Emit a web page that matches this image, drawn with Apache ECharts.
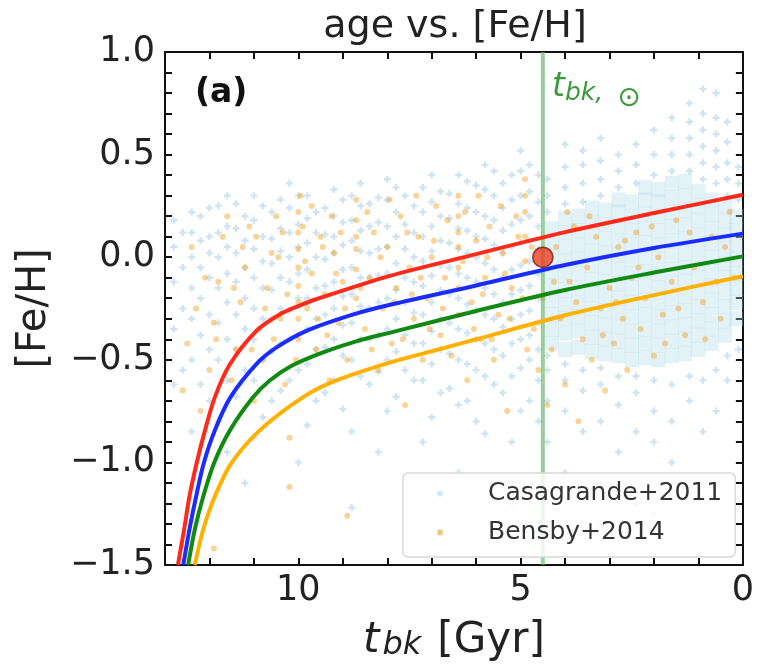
<!DOCTYPE html>
<html><head><meta charset="utf-8">
<script src="https://cdn.jsdelivr.net/npm/echarts@6/dist/echarts.min.js"></script>
<style>html,body{margin:0;padding:0;background:#fff}#c{width:757px;height:667px}</style>
</head><body><div id="c"></div>
<script>
// ---------------- data ----------------
const xTickValues = [0, 5, 10];
const yTickValues = [-1.5, -1.0, -0.5, 0.0, 0.5, 1.0];
const sunAge = [4.5];
const sunFeH = [0.0];

const redT   = [12.71,12.57,12.45,12.29,12.10,11.88,11.54,10.95,10.43,10.0,9.6,7.96,6.0,4.0,2.0,0.0];
const redFe  = [-1.5,-1.327,-1.166,-1.005,-0.844,-0.683,-0.522,-0.36,-0.28,-0.238,-0.205,-0.092,0.015,0.122,0.215,0.304];
const blueT  = [12.59,12.45,12.30,12.13,11.88,11.53,10.95,10.50,9.83,8.78,7.96,6.0,4.0,2.0,0.0];
const blueFe = [-1.5,-1.327,-1.166,-1.005,-0.844,-0.683,-0.522,-0.441,-0.36,-0.28,-0.233,-0.138,-0.038,0.045,0.115];
const greenT = [12.48,12.33,12.14,11.90,11.54,11.02,10.65,10.16,9.46,8.7,7.89,6.0,4.0,2.0,0.0];
const greenFe= [-1.5,-1.327,-1.166,-1.005,-0.844,-0.683,-0.602,-0.53,-0.465,-0.41,-0.365,-0.262,-0.16,-0.075,0.004];
const orangeT  = [12.33,12.14,11.88,11.51,10.87,9.90,9.16,7.89,6.85,6.0,4.0,2.0,0.0];
const orangeFe = [-1.5,-1.327,-1.166,-1.005,-0.844,-0.683,-0.602,-0.51,-0.45,-0.40,-0.283,-0.185,-0.093];

// Casagrande+2011: sparse columns (age, [Fe/H] values)
const casaSparseAges = [12.8,12.6,12.4,12.2,12.0,11.8,11.6,11.4,11.2,11.0,10.8,10.6,10.4,10.2,10.0,9.8,9.6,9.4,9.2,9.0,
  8.8,8.6,8.4,8.2,8.0,7.8,7.6,7.4,7.2,7.0,6.8,6.6,6.4,6.2,6.0,5.8,5.6,5.4,5.2,5.0,4.8,4.6,
  4.4,4.0,3.6,3.2,2.8,2.4,2.0,1.6,1.2,0.9,0.6,0.35,0.1];
const casaSparseFeH = [
  [-0.62,-0.35,-0.12,0.05,0.18],
  [-0.55,-0.25,-0.05,0.12],
  [-0.85,-0.5,-0.3,-0.15,0.0,0.12,0.22],
  [-0.62,-0.38,-0.2,-0.05,0.08,0.2],
  [-0.7,-0.45,-0.28,-0.1,0.02,0.1,0.24],
  [-0.8,-0.5,-0.32,-0.15,0.0,0.12,0.25],
  [-0.95,-0.6,-0.4,-0.22,-0.08,0.05,0.15,0.3],
  [-0.68,-0.45,-0.28,-0.12,0.02,0.14,0.26],
  [-1.1,-0.55,-0.35,-0.2,-0.05,0.08,0.2],
  [-0.88,-0.6,-0.4,-0.25,-0.1,0.04,0.18,0.3],
  [-0.78,-0.5,-0.3,-0.15,-0.02,0.1,0.25],
  [-0.7,-0.46,-0.3,-0.16,-0.03,0.09,0.22],
  [-0.65,-0.42,-0.25,-0.1,0.03,0.14,0.28],
  [-0.6,-0.4,-0.26,-0.12,0.0,0.12,0.24,0.36],
  [-1.0,-0.55,-0.38,-0.2,-0.08,0.05,0.16,0.3],
  [-0.82,-0.52,-0.35,-0.2,-0.06,0.07,0.19,0.3],
  [-0.7,-0.45,-0.3,-0.15,0.0,0.12,0.22],
  [-0.66,-0.44,-0.28,-0.14,-0.01,0.11,0.24],
  [-0.6,-0.4,-0.25,-0.12,0.02,0.1,0.2,0.33],
  [-0.74,-0.48,-0.33,-0.19,-0.06,0.06,0.17,0.28],
  [-1.22,-0.85,-0.5,-0.32,-0.18,-0.05,0.08,0.18,0.3],
  [-0.58,-0.4,-0.24,-0.1,0.03,0.13,0.25,0.36],
  [-0.62,-0.4,-0.25,-0.1,0.02,0.15,0.26],
  [-0.95,-0.56,-0.38,-0.22,-0.09,0.04,0.17,0.29],
  [-0.75,-0.5,-0.35,-0.2,-0.08,0.05,0.15,0.28,0.38],
  [-0.68,-0.46,-0.3,-0.16,-0.03,0.1,0.22,0.34],
  [-0.55,-0.38,-0.22,-0.1,0.04,0.16,0.3],
  [-0.6,-0.42,-0.27,-0.12,0.0,0.12,0.25],
  [-0.9,-0.6,-0.42,-0.28,-0.14,-0.02,0.1,0.22,0.34],
  [-0.78,-0.52,-0.36,-0.22,-0.09,0.03,0.15,0.27,0.4],
  [-0.66,-0.45,-0.3,-0.16,-0.04,0.08,0.2,0.32],
  [-0.64,-0.47,-0.32,-0.18,-0.05,0.07,0.19,0.31],
  [-1.05,-0.72,-0.5,-0.35,-0.2,-0.08,0.04,0.14,0.26,0.4],
  [-0.7,-0.52,-0.37,-0.23,-0.1,0.02,0.13,0.24,0.37],
  [-0.8,-0.55,-0.4,-0.26,-0.12,0.0,0.1,0.22,0.35],
  [-0.86,-0.58,-0.42,-0.28,-0.15,-0.03,0.09,0.2,0.33,0.45],
  [-0.62,-0.45,-0.3,-0.18,-0.06,0.06,0.18,0.3,0.42],
  [-0.66,-0.48,-0.34,-0.22,-0.1,0.02,0.13,0.24,0.36],
  [-1.2,-0.9,-0.58,-0.42,-0.3,-0.18,-0.06,0.05,0.16,0.28,0.4],
  [-0.75,-0.54,-0.4,-0.28,-0.16,-0.04,0.07,0.18,0.3,0.42,0.52],
  [-0.7,-0.5,-0.38,-0.26,-0.14,-0.02,0.08,0.2,0.32,0.45],
  [-0.8,-0.6,-0.45,-0.32,-0.2,-0.08,0.04,0.15,0.27,0.4],
  [-0.9,-0.7,-0.55,-0.48,0.22,0.3,0.38],
  [-1.05,-0.75,-0.6,-0.52,0.26,0.34,0.44,0.55],
  [-0.85,-0.65,-0.55,0.27,0.36,0.45,0.52],
  [-1.3,-1.1,-0.8,-0.62,-0.54,0.3,0.38,0.47,0.58],
  [-0.95,-0.72,-0.58,0.34,0.42,0.5],
  [-1.2,-0.85,-0.66,-0.58,0.36,0.45,0.55],
  [-1.25,-0.9,-0.75,-0.6,0.4,0.5,0.62],
  [-1.0,-0.8,-0.62,0.42,0.5,0.58,0.68],
  [-1.15,-0.7,-0.58,0.42,0.5,0.58,0.66,0.75],
  [-0.85,-0.6,0.38,0.46,0.54,0.62,0.7,0.82],
  [-0.75,-0.55,0.36,0.44,0.52,0.6,0.68,0.8],
  [-0.6,-0.48,0.3,0.38,0.46,0.56,0.66],
  [-0.45,0.28,0.36,0.44]
];
// Casagrande+2011: dense core (young stars)
const casaCoreAges = [4.3,4.0,3.7,3.4,3.1,2.8,2.5,2.2,1.9,1.6,1.3,1.0,0.7,0.4,0.15];
const casaCoreFeH = [
  [-0.42,-0.35,-0.28,-0.21,-0.14,-0.07,0.0,0.07,0.14],
  [-0.45,-0.37,-0.3,-0.23,-0.16,-0.09,-0.02,0.05,0.12,0.19],
  [-0.44,-0.36,-0.29,-0.22,-0.15,-0.08,-0.01,0.06,0.13,0.2],
  [-0.46,-0.39,-0.32,-0.25,-0.18,-0.11,-0.04,0.03,0.1,0.17,0.24],
  [-0.47,-0.4,-0.33,-0.26,-0.19,-0.12,-0.05,0.02,0.09,0.16,0.23],
  [-0.48,-0.41,-0.34,-0.27,-0.2,-0.13,-0.06,0.01,0.08,0.15,0.22,0.28],
  [-0.5,-0.43,-0.36,-0.29,-0.22,-0.15,-0.08,-0.01,0.06,0.13,0.2,0.27],
  [-0.49,-0.42,-0.35,-0.28,-0.21,-0.14,-0.07,0.0,0.07,0.14,0.21,0.28,0.34],
  [-0.5,-0.43,-0.36,-0.29,-0.22,-0.15,-0.08,-0.01,0.06,0.13,0.2,0.27,0.33],
  [-0.48,-0.41,-0.34,-0.27,-0.2,-0.13,-0.06,0.01,0.08,0.15,0.22,0.29,0.36],
  [-0.47,-0.4,-0.33,-0.26,-0.19,-0.12,-0.05,0.02,0.09,0.16,0.23,0.3,0.37],
  [-0.45,-0.38,-0.31,-0.24,-0.17,-0.1,-0.03,0.04,0.11,0.18,0.25,0.32],
  [-0.42,-0.35,-0.28,-0.21,-0.14,-0.07,0.0,0.07,0.14,0.21,0.28],
  [-0.38,-0.31,-0.24,-0.17,-0.1,-0.03,0.04,0.11,0.18,0.25],
  [-0.3,-0.22,-0.15,-0.08,-0.01,0.06,0.13,0.2]
];

// Bensby+2014 (age, [Fe/H])
const bensbyAge = [12.6,12.5,12.3,12.4,12.2,12.0,11.9,11.8,11.7,11.9,11.5,11.4,11.3,11.2,11.1,11.0,10.9,10.8,10.7,10.6,10.5,10.4,10.3,
  10.0,10.0,10.0,10.0,10.0,10.0,10.0,10.0,10.05,9.95,
  10.2,10.2,9.8,9.7,9.6,9.5,9.4,9.3,9.2,9.1,9.0,8.9,8.9,
  8.7,8.7,8.7,8.7,8.7,8.7,
  8.5,8.4,8.3,8.2,8.1,8.0,7.9,7.8,7.7,7.6,7.5,7.4,7.3,7.2,7.1,7.0,6.9,6.8,6.7,
  6.4,6.4,6.4,6.4,6.4,6.4,6.4,
  6.2,6.1,6.0,5.9,5.8,5.7,5.6,5.5,5.4,5.3,5.2,5.1,
  4.9,4.9,4.9,4.9,4.9,
  4.7,4.6,4.5,4.4,4.3,4.2,4.1,4.0,3.9,3.8,3.7,3.6,3.5,3.4,3.3,3.2,3.1,3.0,2.9,2.8,2.7,2.6,2.5,2.4,2.3,2.2,2.0,1.9,1.8,1.6,1.5,1.3,1.1,0.9,0.7,0.5,0.3,0.2,
  9.9,9.85,9.7,9.55,9.45,9.35,9.25,9.15,9.05,8.95,8.6,8.45,8.35,8.15,7.95,7.85,7.65,7.55,7.45,7.35,7.25,7.05,6.95,6.75,6.65,6.55,
  6.3,6.25,6.05,5.95,5.85,5.75,5.65,5.45,5.35,5.25,5.05,4.95,4.85,4.75,
  12.1,11.85,11.6,11.45,11.25,11.05,10.95,10.75,10.55,10.45,10.35,10.25,
  4.25,3.95,3.75,3.45,3.15,2.85,2.65,2.35,2.05,1.75,1.45,1.2,0.85,0.6,0.4];
const bensbyFeH = [-0.65,-0.42,-0.25,0.05,-0.75,-0.55,-0.32,-0.12,0.1,-1.42,-0.6,-0.45,-0.22,-0.05,0.15,-0.7,-0.35,-0.5,-0.15,0.02,0.2,-0.3,-0.62,
  0.22,0.12,0.04,-0.05,-0.14,-0.22,-0.3,-0.4,-0.5,0.3,
  -0.88,-1.12,-0.25,-0.08,-0.45,0.1,-0.18,-0.6,0.02,-0.32,-0.12,-1.26,-0.5,
  0.28,0.18,0.1,0.04,-0.06,-0.2,
  -0.35,-0.1,0.12,-0.55,-0.25,0.05,-0.42,-0.15,0.2,-0.72,-0.05,-0.3,0.1,-0.5,-0.2,0.0,0.25,-0.38,-0.1,
  0.3,0.2,0.12,0.05,-0.05,-0.15,-0.28,
  -0.6,-0.22,0.08,-0.4,-0.1,0.15,-0.5,-0.28,0.02,-0.75,-0.15,0.2,
  0.38,0.3,0.22,0.1,-0.02,
  -0.35,-0.55,-0.2,-0.72,-0.45,0.05,-0.3,-0.62,-0.12,0.15,-0.8,-0.4,-0.05,-0.5,0.1,-0.25,-0.65,-0.15,-0.42,0.05,-0.3,-0.55,-0.1,0.12,-0.35,-0.2,-0.48,0.0,-0.28,-0.12,0.18,-0.38,-0.05,-0.22,0.1,-0.3,0.22,-0.1,
  0.15,-0.02,0.25,-0.3,0.05,-0.38,0.2,-0.08,0.12,-0.25,-0.15,0.22,-0.45,0.0,0.28,-0.22,-0.4,0.12,-0.18,0.3,-0.1,-0.35,0.08,-0.25,0.18,-0.48,
  -0.02,0.22,-0.35,0.3,-0.18,0.0,-0.4,0.25,-0.08,-0.3,0.1,-0.2,-0.45,0.05,
  -0.1,-0.4,0.2,-0.15,0.05,-0.45,0.1,-0.25,-0.4,0.0,0.12,-0.18,
  -0.12,0.22,-0.22,0.2,-0.38,-0.22,0.08,-0.05,0.15,-0.42,-0.25,0.12,-0.4,-0.12,0.05];

// ---------------- build series data ----------------
const zip = (a, b) => a.map((v, i) => [v, b[i]]);
const cols = (ages, vals) => ages.flatMap((t, i) => vals[i].map(f => [t, f]));

const FONT = '"DejaVu Sans", "Liberation Sans", sans-serif';
const plusPath = 'path://M2,0H4V2H6V4H4V6H2V4H0V2H2Z';
const SUNGREEN = '#3a9a3a';

const axisLineStyle = { show: true, onZero: false, lineStyle: { color: '#111', width: 2 } };
const tickStyle = { show: true, inside: true, length: 7, lineStyle: { color: '#111', width: 2 } };

const fmtX = v => xTickValues.some(t => Math.abs(t - v) < 1e-6) ? String(Math.round(v)) : '';
const fmtY = v => {
  if (!yTickValues.some(t => Math.abs(t - v) < 1e-6)) return '';
  const s = Math.abs(v).toFixed(1);
  return (v < -1e-9 ? '\u2212' : '') + s;
};

const chart = echarts.init(document.getElementById('c'), null, { renderer: 'canvas' });
chart.setOption({
  animation: false,
  backgroundColor: '#fff',
  textStyle: { fontFamily: FONT },
  title: {
    text: 'age vs. [Fe/H]', left: 455, top: 8, textAlign: 'center', padding: 0,
    textStyle: { fontFamily: FONT, fontSize: 38, fontWeight: 'normal', color: '#222' }
  },
  grid: { left: 165, top: 52, right: 11, bottom: 98, containLabel: false },
  xAxis: [{
    type: 'value', min: 0, max: 13, interval: 1, inverse: true, position: 'bottom',
    axisLine: axisLineStyle, axisTick: tickStyle, splitLine: { show: false },
    axisLabel: { formatter: fmtX, fontFamily: FONT, fontSize: 35, color: '#222', margin: 8 },
    name: '{t|t}{s|bk}{n|[Gyr]}', nameLocation: 'middle', nameGap: 55,
    nameTextStyle: {
      fontFamily: FONT, color: '#222',
      rich: {
        t: { fontFamily: FONT, fontStyle: 'italic', fontSize: 42, lineHeight: 42, color: '#222' },
        s: { fontFamily: FONT, fontStyle: 'italic', fontSize: 32, lineHeight: 16, verticalAlign: 'bottom', color: '#222', padding: [0, 16, 0, 3] },
        n: { fontFamily: FONT, fontSize: 42, lineHeight: 42, color: '#222' }
      }
    }
  }, {
    type: 'value', min: 0, max: 13, interval: 1, inverse: true, position: 'top',
    axisLine: axisLineStyle, axisTick: tickStyle, splitLine: { show: false }, axisLabel: { show: false }
  }],
  yAxis: [{
    type: 'value', min: -1.5, max: 1.0, interval: 0.1, position: 'left',
    axisLine: axisLineStyle, axisTick: tickStyle, splitLine: { show: false },
    axisLabel: { formatter: fmtY, fontFamily: FONT, fontSize: 35, color: '#222', margin: 10 },
    name: '[Fe/H]', nameLocation: 'middle', nameGap: 110,
    nameTextStyle: { fontFamily: FONT, fontSize: 40, color: '#222' }
  }, {
    type: 'value', min: -1.5, max: 1.0, interval: 0.1, position: 'right',
    axisLine: axisLineStyle, axisTick: tickStyle, splitLine: { show: false }, axisLabel: { show: false }
  }],
  legend: {
    orient: 'vertical', left: 403, top: 473,
    padding: [8, 13, 12, 34], itemGap: 14, itemWidth: 6, itemHeight: 6,
    backgroundColor: 'rgba(255,255,255,0.82)', borderColor: '#d9d9d9', borderWidth: 1.5, borderRadius: 5,
    formatter: name => '{g|}' + name,
    textStyle: { fontFamily: FONT, fontSize: 25, color: '#333',
      rich: { g: { width: 40 } } },
    data: [
      { name: 'Casagrande+2011', icon: 'circle', itemStyle: { color: 'rgba(173,216,230,0.7)' } },
      { name: 'Bensby+2014', icon: 'circle', itemStyle: { color: 'rgba(225,180,60,0.85)' } }
    ]
  },
  graphic: [
    { type: 'text', left: 195, top: 77, z: 100,
      style: { text: '(a)', font: 'bold 33px ' + FONT, fill: '#111' } },
    { type: 'text', left: 552, top: 71, z: 100,
      style: {
        text: '{t|t}{s|bk,}', fill: SUNGREEN,
        rich: {
          t: { fontFamily: FONT, fontStyle: 'italic', fontSize: 33, lineHeight: 36, fill: SUNGREEN },
          s: { fontFamily: FONT, fontStyle: 'italic', fontSize: 25, lineHeight: 14, verticalAlign: 'bottom', fill: SUNGREEN }
        }
      } },
    { type: 'text', z: 100,
      style: { x: 629, y: 99, text: '\u2299', align: 'center', verticalAlign: 'middle',
        font: '28px ' + FONT, fill: SUNGREEN } }
  ],
  series: [
    { name: 'Casagrande+2011', type: 'scatter', data: cols(casaCoreAges, casaCoreFeH),
      symbol: 'rect', symbolSize: [14, 15], silent: true, z: 1,
      itemStyle: { color: 'rgba(173,216,230,0.42)' } },
    { name: 'Casagrande+2011', type: 'scatter', data: cols(casaSparseAges, casaSparseFeH),
      symbol: plusPath, symbolSize: 7, silent: true, z: 1,
      itemStyle: { color: 'rgba(130,185,215,0.48)' } },
    { name: 'Bensby+2014', type: 'scatter', data: zip(bensbyAge, bensbyFeH),
      symbol: 'circle', symbolSize: 6, silent: true, z: 2,
      itemStyle: { color: 'rgba(240,165,40,0.6)' } },
    { name: 'sun age', type: 'line', data: [[sunAge[0], -1.5], [sunAge[0], 1.0]],
      symbol: 'none', z: 3, lineStyle: { color: 'rgba(100,180,100,0.65)', width: 4 } },
    { name: 'red', type: 'line', data: zip(redT, redFe), symbol: 'none', smooth: 0.3, z: 4,
      lineStyle: { color: '#ff2a1a', width: 4 } },
    { name: 'blue', type: 'line', data: zip(blueT, blueFe), symbol: 'none', smooth: 0.3, z: 4,
      lineStyle: { color: '#1a2cff', width: 4 } },
    { name: 'green', type: 'line', data: zip(greenT, greenFe), symbol: 'none', smooth: 0.3, z: 4,
      lineStyle: { color: '#118a11', width: 4 } },
    { name: 'orange', type: 'line', data: zip(orangeT, orangeFe), symbol: 'none', smooth: 0.3, z: 4,
      lineStyle: { color: '#ffb000', width: 4 } },
    { name: 'Sun', type: 'scatter', data: zip(sunAge, sunFeH), symbol: 'circle', symbolSize: 20, z: 6,
      itemStyle: { color: '#ee3d22', borderColor: '#7a1a10', borderWidth: 1.5 } }
  ]
});
</script></body></html>
